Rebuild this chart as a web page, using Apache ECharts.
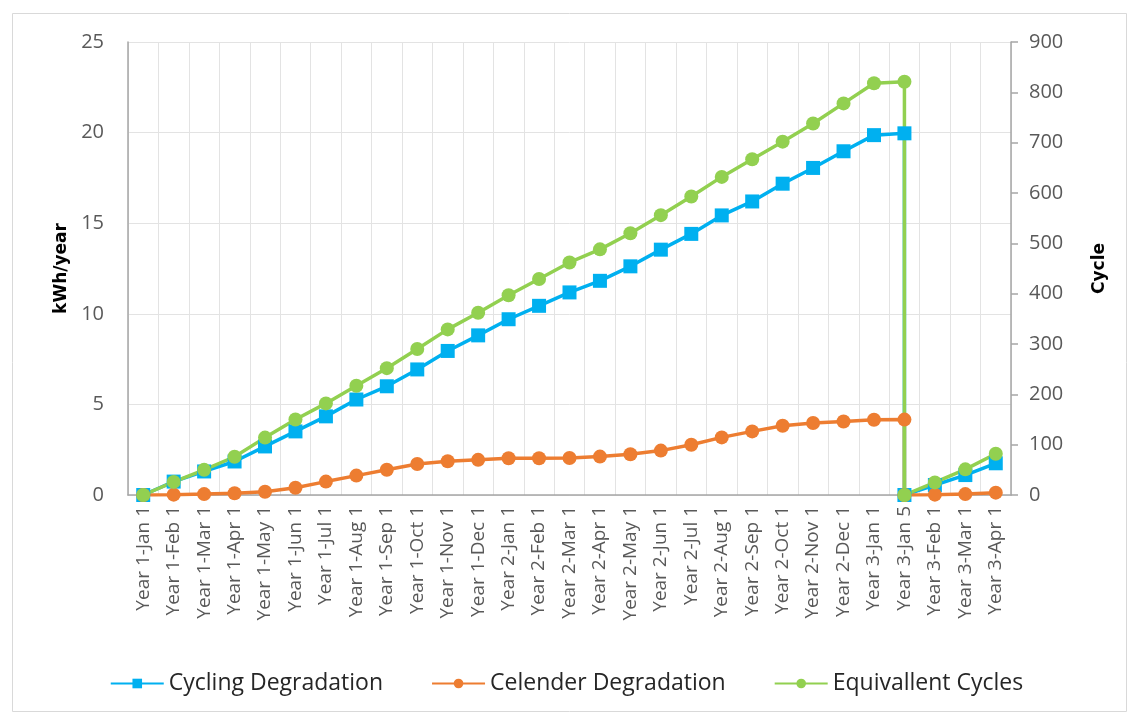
<!DOCTYPE html>
<html>
<head>
<meta charset="utf-8">
<script src="https://cdn.jsdelivr.net/npm/echarts@6/dist/echarts.min.js"></script>
<style>
  html, body { margin: 0; padding: 0; background: #fff; }
  #main { width: 1133px; height: 715px; }
</style>
</head>
<body>
<div id="main"></div>
<script>
// x axis categories
const categories = [
    'Year 1-Jan 1', 'Year 1-Feb 1', 'Year 1-Mar 1', 'Year 1-Apr 1', 'Year 1-May 1', 'Year 1-Jun 1',
    'Year 1-Jul 1', 'Year 1-Aug 1', 'Year 1-Sep 1', 'Year 1-Oct 1', 'Year 1-Nov 1', 'Year 1-Dec 1',
    'Year 2-Jan 1', 'Year 2-Feb 1', 'Year 2-Mar 1', 'Year 2-Apr 1', 'Year 2-May 1', 'Year 2-Jun 1',
    'Year 2-Jul 1', 'Year 2-Aug 1', 'Year 2-Sep 1', 'Year 2-Oct 1', 'Year 2-Nov 1', 'Year 2-Dec 1',
    'Year 3-Jan 1', 'Year 3-Jan 5', 'Year 3-Feb 1', 'Year 3-Mar 1', 'Year 3-Apr 1'
];

// one entry per data point: Jan 5 appears twice (value before and after the reset)
const pointCats = [
    'Year 1-Jan 1', 'Year 1-Feb 1', 'Year 1-Mar 1', 'Year 1-Apr 1', 'Year 1-May 1', 'Year 1-Jun 1',
    'Year 1-Jul 1', 'Year 1-Aug 1', 'Year 1-Sep 1', 'Year 1-Oct 1', 'Year 1-Nov 1', 'Year 1-Dec 1',
    'Year 2-Jan 1', 'Year 2-Feb 1', 'Year 2-Mar 1', 'Year 2-Apr 1', 'Year 2-May 1', 'Year 2-Jun 1',
    'Year 2-Jul 1', 'Year 2-Aug 1', 'Year 2-Sep 1', 'Year 2-Oct 1', 'Year 2-Nov 1', 'Year 2-Dec 1',
    'Year 3-Jan 1', 'Year 3-Jan 5', 'Year 3-Jan 5', 'Year 3-Feb 1', 'Year 3-Mar 1', 'Year 3-Apr 1'
];

// kWh/year (left axis)
const cyclingDeg = [
    0, 0.74, 1.3, 1.85, 2.68, 3.51, 4.34, 5.27, 6.0, 6.93, 7.95, 8.81,
    9.7, 10.44, 11.18, 11.82, 12.62, 13.54, 14.41, 15.43, 16.2, 17.18, 18.05, 18.97,
    19.86, 19.96, 0, 0.55, 1.1, 1.75
];
const calendarDeg = [
    0, 0.02, 0.05, 0.1, 0.18, 0.4, 0.74, 1.07, 1.39, 1.71, 1.86, 1.94,
    2.03, 2.03, 2.04, 2.12, 2.25, 2.45, 2.77, 3.18, 3.51, 3.82, 3.97, 4.06,
    4.15, 4.16, 0, 0.02, 0.05, 0.13
];

// Cycle (right axis)
const equivCycles = [
    0, 26, 50, 76, 114, 150, 182, 217, 252, 290, 329, 362,
    397, 429, 462, 488, 520, 556, 593, 632, 667, 702, 738, 778,
    818, 821, 0, 25, 51, 82
];

const leftTicks = { min: 0, max: 25, interval: 5 };
const rightTicks = { min: 0, max: 900, interval: 100 };

function pairs(values) {
    return values.map((v, i) => [pointCats[i], v]);
}

const chart = echarts.init(document.getElementById('main'), null, { renderer: 'canvas' });

const axisGray = '#595959';
const labelFont = 'Open Sans';

const option = {
    backgroundColor: '#ffffff',
    animation: false,
    graphic: [{
        type: 'rect',
        shape: { x: 12.5, y: 13.5, width: 1114, height: 698 },
        style: { fill: 'none', stroke: '#d9d9d9', lineWidth: 1 },
        silent: true
    }],
    grid: {
        left: 128,
        right: 122,
        top: 42,
        bottom: 220
    },
    legend: {
        bottom: 15,
        left: 'center',
        itemWidth: 53,
        itemHeight: 12,
        itemGap: 48,
        textStyle: {
            fontFamily: 'Open Sans',
            fontSize: 23,
            color: '#262626'
        },
        data: ['Cycling Degradation', 'Celender Degradation', 'Equivallent Cycles']
    },
    xAxis: {
        type: 'category',
        data: categories,
        boundaryGap: true,
        axisLine: { lineStyle: { color: '#a6a6a6', width: 1.5 } },
        axisTick: { show: false },
        splitLine: { show: true, lineStyle: { color: '#e3e3e3', width: 1 } },
        axisLabel: {
            interval: 0,
            rotate: 90,
            margin: 11,
            color: axisGray,
            fontFamily: labelFont,
            fontSize: 19
        }
    },
    yAxis: [{
        type: 'value',
        name: 'kWh/year',
        nameLocation: 'middle',
        nameGap: 58,
        nameRotate: 90,
        nameTextStyle: {
            fontFamily: 'DejaVu Sans',
            fontWeight: 'bold',
            fontSize: 17,
            color: '#000'
        },
        min: leftTicks.min,
        max: leftTicks.max,
        interval: leftTicks.interval,
        axisLine: { show: true, lineStyle: { color: '#a6a6a6', width: 1.5 } },
        axisTick: { show: false },
        splitLine: { show: true, lineStyle: { color: '#e3e3e3', width: 1 } },
        axisLabel: {
            margin: 24,
            color: axisGray,
            fontFamily: labelFont,
            fontSize: 20
        }
    }, {
        type: 'value',
        name: 'Cycle',
        nameLocation: 'middle',
        nameGap: 80,
        nameRotate: 90,
        nameTextStyle: {
            fontFamily: 'DejaVu Sans',
            fontWeight: 'bold',
            fontSize: 17,
            color: '#000'
        },
        min: rightTicks.min,
        max: rightTicks.max,
        interval: rightTicks.interval,
        axisLine: { show: true, lineStyle: { color: '#a6a6a6', width: 1.5 } },
        axisTick: { show: true, length: 7, lineStyle: { color: '#a6a6a6', width: 1.5 } },
        splitLine: { show: false },
        axisLabel: {
            margin: 18,
            color: axisGray,
            fontFamily: labelFont,
            fontSize: 20
        }
    }],
    series: [{
        name: 'Cycling Degradation',
        type: 'line',
        yAxisIndex: 0,
        data: pairs(cyclingDeg),
        symbol: 'rect',
        symbolSize: 14,
        color: '#00b0f0',
        lineStyle: { width: 3.5, color: '#00b0f0' },
        itemStyle: { color: '#00b0f0' }
    }, {
        name: 'Celender Degradation',
        type: 'line',
        yAxisIndex: 0,
        data: pairs(calendarDeg),
        symbol: 'circle',
        symbolSize: 14,
        color: '#ed7d31',
        lineStyle: { width: 3.5, color: '#ed7d31' },
        itemStyle: { color: '#ed7d31' }
    }, {
        name: 'Equivallent Cycles',
        type: 'line',
        yAxisIndex: 1,
        data: pairs(equivCycles),
        symbol: 'circle',
        symbolSize: 14,
        color: '#92d050',
        lineStyle: { width: 3.5, color: '#92d050' },
        itemStyle: { color: '#92d050' }
    }]
};

try {
    chart.setOption(option);
} catch (error) {
    console.error('Error setting chart option:', error);
}
</script>
</body>
</html>
